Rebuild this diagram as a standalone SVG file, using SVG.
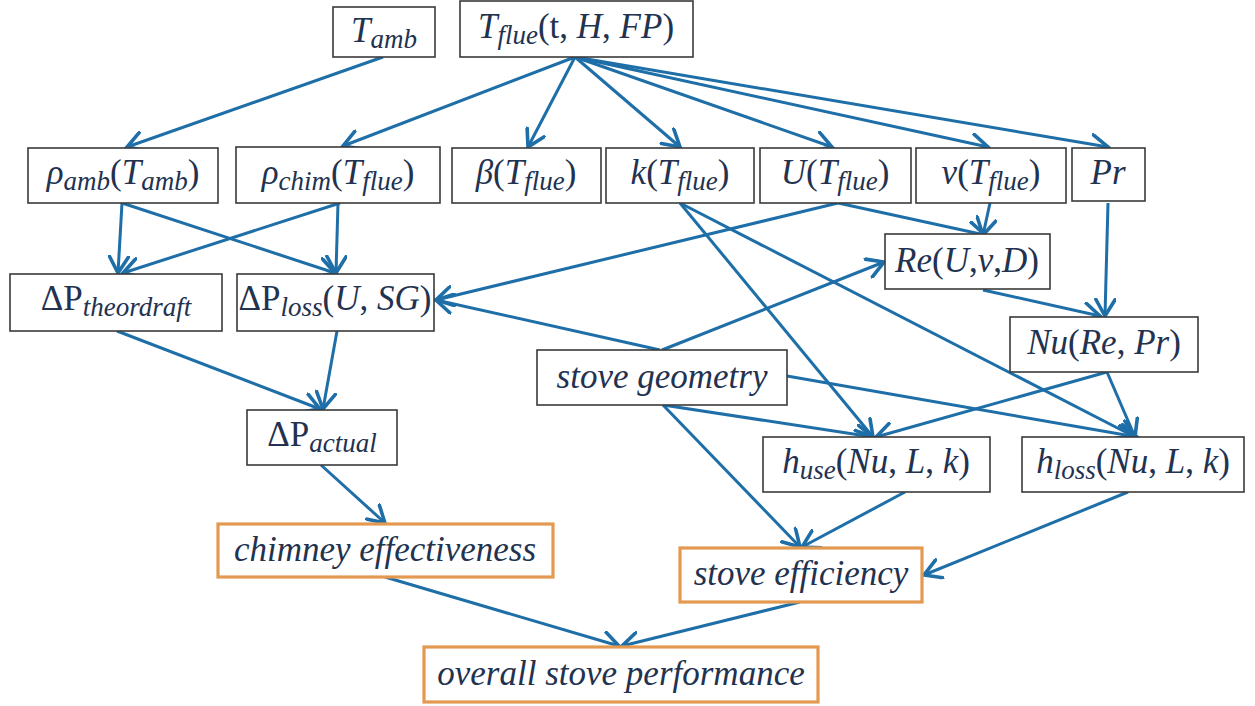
<svg xmlns="http://www.w3.org/2000/svg" width="1255" height="706" viewBox="0 0 1255 706">
<style>
.box{fill:#fff;stroke:#3a3a3a;stroke-width:1.6}
.obox{fill:#fff;stroke:#e39a50;stroke-width:3.2}
.t{font-family:'Liberation Serif','Times New Roman',Tinos,'DejaVu Serif',serif;font-style:italic;font-size:35px;fill:#22324f;text-anchor:middle}
.u{font-style:normal}
.s{font-size:27px}
.c line{stroke:#1e6ea8;stroke-width:3;marker-end:url(#ah)}
</style>
<defs>
<marker id="ah" markerUnits="userSpaceOnUse" markerWidth="22" markerHeight="22" refX="13" refY="8" orient="auto" viewBox="0 0 16 16">
<path d="M1,1 L13,8 L1,15" fill="none" stroke="#1e6ea8" stroke-width="2.6" stroke-linecap="round" stroke-linejoin="miter"/>
</marker>
</defs>
<rect width="1255" height="706" fill="#fff"/>
<g class="c" id="connectors">
<line x1="383" y1="57" x2="127" y2="147"/>
<line x1="575" y1="57" x2="343" y2="146"/>
<line x1="575" y1="57" x2="528" y2="147"/>
<line x1="575" y1="57" x2="680" y2="147"/>
<line x1="575" y1="57" x2="832" y2="147"/>
<line x1="575" y1="57" x2="988" y2="147"/>
<line x1="575" y1="57" x2="1108" y2="147"/>
<line x1="122" y1="203" x2="118" y2="273"/>
<line x1="122" y1="203" x2="335" y2="273"/>
<line x1="340" y1="203" x2="123" y2="273"/>
<line x1="338" y1="203" x2="336" y2="273"/>
<line x1="838" y1="203" x2="985" y2="235"/>
<line x1="990" y1="203" x2="983" y2="235"/>
<line x1="838" y1="203" x2="436" y2="300"/>
<line x1="660" y1="350" x2="436" y2="300"/>
<line x1="662" y1="350" x2="884" y2="262"/>
<line x1="680" y1="203" x2="873" y2="437"/>
<line x1="680" y1="203" x2="1135" y2="437"/>
<line x1="1108" y1="203" x2="1105" y2="316"/>
<line x1="983" y1="290" x2="1100" y2="316"/>
<line x1="1107" y1="372" x2="876" y2="437"/>
<line x1="1107" y1="372" x2="1135" y2="437"/>
<line x1="787" y1="376" x2="1137" y2="437"/>
<line x1="663" y1="405" x2="873" y2="437"/>
<line x1="663" y1="405" x2="800" y2="547"/>
<line x1="905" y1="492" x2="802" y2="547"/>
<line x1="1128" y1="492" x2="924" y2="575"/>
<line x1="117" y1="331" x2="320" y2="409"/>
<line x1="337" y1="331" x2="323" y2="409"/>
<line x1="321" y1="465" x2="385" y2="523"/>
<line x1="385" y1="577" x2="619" y2="646"/>
<line x1="800" y1="602" x2="622" y2="646"/>
</g>
<g id="n-tamb"><rect class="box" x="333" y="7" width="102" height="50"/><text class="t" x="384" y="42">T<tspan class="s" dy="6">amb</tspan></text></g>
<g id="n-tflue"><rect class="box" x="460" y="1" width="233" height="56"/><text class="t" x="576" y="38">T<tspan class="s" dy="6">flue</tspan><tspan class="u" dy="-6">(t, </tspan>H<tspan class="u">, </tspan>FP<tspan class="u">)</tspan></text></g>
<g id="n-rhoamb"><rect class="box" x="28" y="148" width="190" height="55"/><text class="t" x="123" y="184">ρ<tspan class="s" dy="6">amb</tspan><tspan class="u" dy="-6">(</tspan>T<tspan class="s" dy="6">amb</tspan><tspan class="u" dy="-6">)</tspan></text></g>
<g id="n-rhochim"><rect class="box" x="236" y="147" width="204" height="56"/><text class="t" x="338" y="184">ρ<tspan class="s" dy="6">chim</tspan><tspan class="u" dy="-6">(</tspan>T<tspan class="s" dy="6">flue</tspan><tspan class="u" dy="-6">)</tspan></text></g>
<g id="n-beta"><rect class="box" x="452" y="148" width="149" height="55"/><text class="t" x="526" y="184">β<tspan class="u">(</tspan>T<tspan class="s" dy="6">flue</tspan><tspan class="u" dy="-6">)</tspan></text></g>
<g id="n-k"><rect class="box" x="606" y="148" width="148" height="55"/><text class="t" x="680" y="184">k<tspan class="u">(</tspan>T<tspan class="s" dy="6">flue</tspan><tspan class="u" dy="-6">)</tspan></text></g>
<g id="n-u"><rect class="box" x="760" y="148" width="151" height="55"/><text class="t" x="835" y="184">U<tspan class="u">(</tspan>T<tspan class="s" dy="6">flue</tspan><tspan class="u" dy="-6">)</tspan></text></g>
<g id="n-nu"><rect class="box" x="916" y="148" width="150" height="55"/><text class="t" x="991" y="184">ν<tspan class="u">(</tspan>T<tspan class="s" dy="6">flue</tspan><tspan class="u" dy="-6">)</tspan></text></g>
<g id="n-pr"><rect class="box" x="1072" y="148" width="73" height="53"/><text class="t" x="1108" y="184">Pr</text></g>
<g id="n-re"><rect class="box" x="885" y="234" width="165" height="55"/><text class="t" x="967" y="272">Re<tspan class="u">(</tspan>U<tspan class="u">,</tspan>ν<tspan class="u">,</tspan>D<tspan class="u">)</tspan></text></g>
<g id="n-dptheor"><rect class="box" x="10" y="274" width="212" height="57"/><text class="t" x="116" y="310"><tspan class="u">ΔP</tspan><tspan class="s" dy="6">theordraft</tspan></text></g>
<g id="n-dploss"><rect class="box" x="237" y="274" width="197" height="57"/><text class="t" x="335" y="310"><tspan class="u">ΔP</tspan><tspan class="s" dy="6">loss</tspan><tspan class="u" dy="-6">(</tspan>U<tspan class="u">, </tspan>SG<tspan class="u">)</tspan></text></g>
<g id="n-nusselt"><rect class="box" x="1010" y="317" width="188" height="55"/><text class="t" x="1104" y="354">Nu<tspan class="u">(</tspan>Re<tspan class="u">, </tspan>Pr<tspan class="u">)</tspan></text></g>
<g id="n-geom"><rect class="box" x="537" y="350" width="250" height="55"/><text class="t" x="662" y="388">stove geometry</text></g>
<g id="n-dpactual"><rect class="box" x="247" y="410" width="150" height="55"/><text class="t" x="322" y="446"><tspan class="u">ΔP</tspan><tspan class="s" dy="6">actual</tspan></text></g>
<g id="n-huse"><rect class="box" x="763" y="437" width="227" height="55"/><text class="t" x="876" y="473">h<tspan class="s" dy="6">use</tspan><tspan class="u" dy="-6">(</tspan>Nu<tspan class="u">, </tspan>L<tspan class="u">, </tspan>k<tspan class="u">)</tspan></text></g>
<g id="n-hloss"><rect class="box" x="1022" y="437" width="222" height="55"/><text class="t" x="1133" y="473">h<tspan class="s" dy="6">loss</tspan><tspan class="u" dy="-6">(</tspan>Nu<tspan class="u">, </tspan>L<tspan class="u">, </tspan>k<tspan class="u">)</tspan></text></g>
<g id="n-chimney"><rect class="obox" x="218" y="524" width="335" height="53"/><text class="t" x="385" y="561">chimney effectiveness</text></g>
<g id="n-stoveeff"><rect class="obox" x="680" y="548" width="242" height="54"/><text class="t" x="801" y="585">stove efficiency</text></g>
<g id="n-overall"><rect class="obox" x="424" y="647" width="394" height="55"/><text class="t" x="621" y="685">overall stove performance</text></g>
</svg>
